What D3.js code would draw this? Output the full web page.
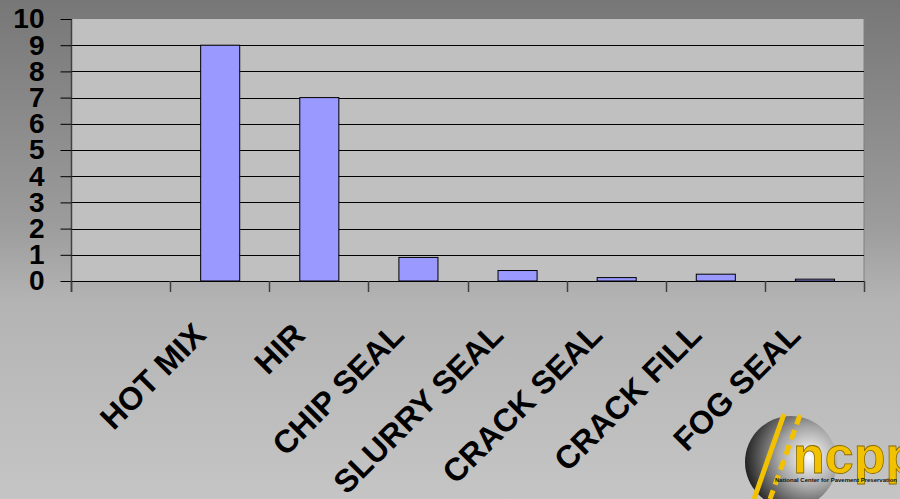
<!DOCTYPE html>
<html>
<head>
<meta charset="utf-8">
<script src="https://cdn.jsdelivr.net/npm/d3@7"></script>
<style>
  html, body { margin: 0; padding: 0; overflow: hidden; }
  svg { display: block; }
</style>
</head>
<body>
<svg id="chart" width="900" height="499"></svg>
<script>
const categories = ["", "HOT MIX", "HIR", "CHIP SEAL", "SLURRY SEAL", "CRACK SEAL", "CRACK FILL", "FOG SEAL"];
const values = [0, 9, 7, 0.9, 0.4, 0.13, 0.26, 0.07];
const yTicks = [0, 1, 2, 3, 4, 5, 6, 7, 8, 9, 10];

const W = 900, H = 499;
const plot = { left: 71, right: 864, top: 19, bottom: 281 };

const svg = d3.select("#chart");
const defs = svg.append("defs");

const bg = defs.append("linearGradient").attr("id", "bg").attr("x1", 0).attr("y1", 0).attr("x2", 0).attr("y2", 1);
bg.append("stop").attr("offset", 0).attr("stop-color", "#777777");
bg.append("stop").attr("offset", 0.45).attr("stop-color", "#9c9c9c");
bg.append("stop").attr("offset", 0.6).attr("stop-color", "#b3b3b3");
bg.append("stop").attr("offset", 1).attr("stop-color", "#c5c5c5");

svg.append("rect").attr("width", W).attr("height", H).attr("fill", "url(#bg)");

const x = d3.scaleBand().domain(categories).range([plot.left, plot.right])
  .paddingInner(0.606).paddingOuter(0.303);
const y = d3.scaleLinear().domain([0, 10]).range([plot.bottom, plot.top]);

// plot area
svg.append("rect").attr("x", plot.left).attr("y", plot.top)
  .attr("width", plot.right - plot.left).attr("height", plot.bottom - plot.top)
  .attr("fill", "#c0c0c0");
svg.append("line").attr("x1", plot.right).attr("x2", plot.right)
  .attr("y1", plot.top).attr("y2", plot.bottom).attr("stroke", "#808080").attr("stroke-width", 1);

// gridlines
svg.append("g").selectAll("line").data(yTicks.filter(d => d > 0 && d < 10)).join("line")
  .attr("x1", plot.left).attr("x2", plot.right)
  .attr("y1", d => Math.round(y(d)) + 0.5).attr("y2", d => Math.round(y(d)) + 0.5)
  .attr("stroke", "#000").attr("stroke-width", 1);

// bars
svg.append("g").selectAll("rect").data(categories.map((c, i) => ({ c, v: values[i] }))).join("rect")
  .filter(d => d.v > 0)
  .attr("x", d => x(d.c) + 0.5)
  .attr("y", d => y(d.v))
  .attr("width", x.bandwidth())
  .attr("height", d => plot.bottom - y(d.v))
  .attr("fill", "#9999ff").attr("stroke", "#000").attr("stroke-width", 1);

// y axis
const yAxis = d3.axisLeft(y).tickValues(yTicks).tickFormat(d3.format("d")).tickSize(11).tickPadding(16);
const gy = svg.append("g").attr("transform", `translate(${plot.left + 0.5},0)`).call(yAxis);
gy.select(".domain").attr("stroke", "#404040").attr("stroke-width", 1.5).attr("d", `M0,${plot.top}V${plot.bottom + 11}`);
gy.selectAll(".tick line").attr("stroke", "#000").attr("stroke-width", 1);
gy.selectAll(".tick text").attr("fill", "#000")
  .style("font-family", "Arial, 'Liberation Sans', sans-serif")
  .style("font-size", "28px").style("font-weight", "bold");

// x axis line and category boundary ticks
svg.append("line").attr("x1", plot.left).attr("x2", plot.right)
  .attr("y1", plot.bottom + 0.5).attr("y2", plot.bottom + 0.5).attr("stroke", "#000").attr("stroke-width", 1.2);
svg.append("g").selectAll("line").data(d3.range(categories.length + 1)).join("line")
  .attr("x1", i => Math.round(plot.left + i * x.step()) + 0.5)
  .attr("x2", i => Math.round(plot.left + i * x.step()) + 0.5)
  .attr("y1", plot.bottom).attr("y2", plot.bottom + 11)
  .attr("stroke", "#404040").attr("stroke-width", 1.5);

// x labels
svg.append("g").selectAll("text").data(categories).join("text")
  .attr("transform", d => `translate(${x(d) + x.bandwidth() / 2 - 12},337) rotate(-45)`)
  .attr("text-anchor", "end")
  .style("font-family", "Arial, 'Liberation Sans', sans-serif")
  .style("font-size", "32px").style("font-weight", "bold")
  .attr("fill", "#000")
  .text(d => d);

// logo (approximation)
const lg = defs.append("radialGradient").attr("id", "logoG").attr("cx", 0.7).attr("cy", 0.45).attr("r", 0.75);
lg.append("stop").attr("offset", 0).attr("stop-color", "#ffffff");
lg.append("stop").attr("offset", 0.45).attr("stop-color", "#a5a5a5");
lg.append("stop").attr("offset", 1).attr("stop-color", "#111111");
const logo = svg.append("g");
logo.append("circle").attr("cx", 791).attr("cy", 462).attr("r", 46).attr("fill", "url(#logoG)");
logo.append("line").attr("x1", 784).attr("y1", 414).attr("x2", 754).attr("y2", 499)
  .attr("stroke", "#f2c200").attr("stroke-width", 5);
logo.append("line").attr("x1", 800).attr("y1", 415).attr("x2", 770).attr("y2", 499)
  .attr("stroke", "#f2c200").attr("stroke-width", 5).attr("stroke-dasharray", "10,6");
logo.append("text").attr("x", 793).attr("y", 473)
  .style("font-family", "Arial, 'Liberation Sans', sans-serif").style("font-size", "52px").style("font-weight", "bold")
  .attr("fill", "#f2c200").attr("stroke", "#8a6a00").attr("stroke-width", 0.8).text("ncpp");
logo.append("text").attr("x", 775).attr("y", 482)
  .style("font-family", "Arial, 'Liberation Sans', sans-serif").style("font-size", "6px").style("font-weight", "bold")
  .attr("fill", "#111").text("National Center for Pavement Preservation");
</script>
</body>
</html>
